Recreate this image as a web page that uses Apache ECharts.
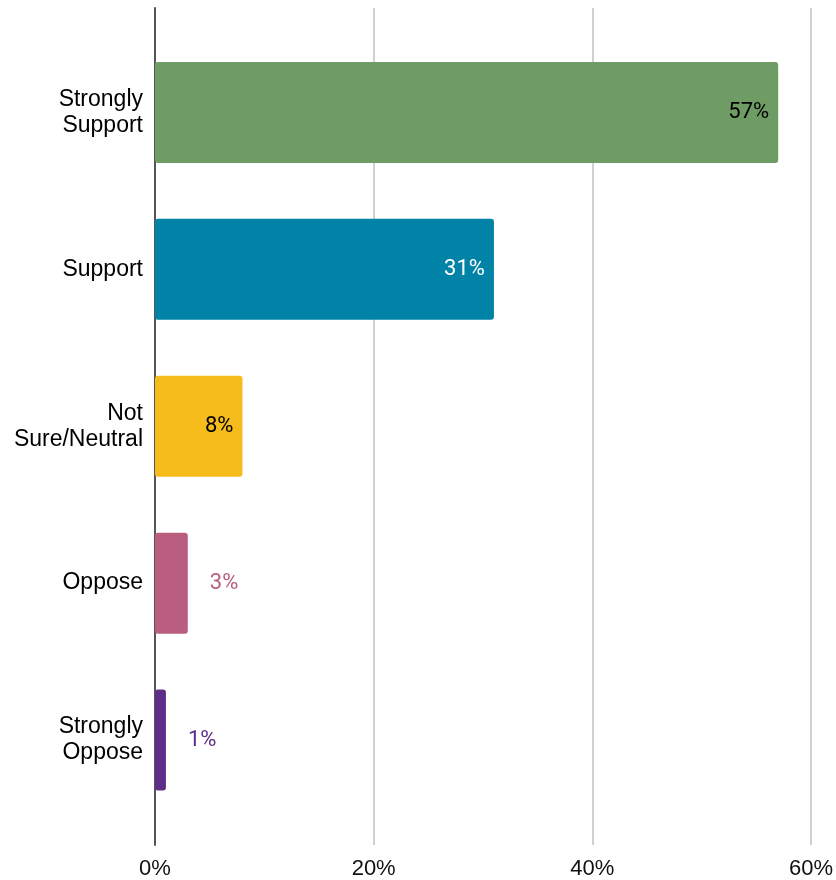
<!DOCTYPE html>
<html>
<head>
<meta charset="utf-8">
<script src="https://cdn.jsdelivr.net/npm/echarts@6/dist/echarts.min.js"></script>
<style>
  html, body { margin: 0; padding: 0; background: #fff; }
  #chart { width: 836px; height: 880px; }
</style>
</head>
<body>
<div id="chart"></div>
<script>
// Survey responses, share of respondents (%)
const categories = ['Strongly\nSupport', 'Support', 'Not\nSure/Neutral', 'Oppose', 'Strongly\nOppose'];
const values = [57, 31, 8, 3, 1];
const barColors = ['#6E9C64', '#0083A6', '#F5BC1C', '#BA5E80', '#5E2D8A'];
const labelColors = ['#000000', '#ffffff', '#000000', '#BA5E80', '#5E2D8A'];
const labelInside = [true, true, true, false, false];
const xTicks = [0, 20, 40, 60];

const chart = echarts.init(document.getElementById('chart'), null, { renderer: 'canvas' });

const barData = values.map((v, i) => ({
  value: v,
  itemStyle: { color: barColors[i] },
  label: labelInside[i]
    ? { position: 'insideRight', distance: 9, color: labelColors[i] }
    : { position: 'right', distance: 22, color: labelColors[i] }
}));

chart.setOption({
  animation: false,
  grid: [
    // frame: gridlines, zero axis and tick labels
    { left: 155, right: 25, top: 8, bottom: 35 },
    // bars
    { left: 155, right: 25, top: 34, bottom: 61.5 }
  ],
  xAxis: [
    {
      gridIndex: 0, type: 'value', min: xTicks[0], max: xTicks[xTicks.length - 1], interval: 20,
      axisLine: { show: false }, axisTick: { show: false },
      splitLine: { lineStyle: { color: '#d0d0d0', width: 2 } },
      axisLabel: {
        formatter: v => v + '%', margin: 13,
        fontFamily: 'Liberation Sans', fontSize: 22, color: '#111'
      }
    },
    {
      gridIndex: 1, type: 'value', min: xTicks[0], max: xTicks[xTicks.length - 1], show: false
    }
  ],
  yAxis: [
    {
      gridIndex: 0, type: 'category', data: [''],
      axisLine: { show: true, lineStyle: { color: '#555', width: 2 } },
      axisTick: { show: false }, axisLabel: { show: false }, splitLine: { show: false }
    },
    {
      gridIndex: 1, type: 'category', data: categories, inverse: true,
      axisLine: { show: false }, axisTick: { show: false },
      axisLabel: {
        margin: 12, fontFamily: 'Liberation Sans', fontSize: 23,
        lineHeight: 26, color: '#000', align: 'right'
      }
    }
  ],
  series: [
    {
      type: 'bar', xAxisIndex: 1, yAxisIndex: 1, data: barData, barWidth: 101, z: 1,
      itemStyle: { borderRadius: 3 },
      label: {
        show: true, formatter: p => p.value + '%',
        fontFamily: 'Roboto', fontSize: 22
      }
    }
  ]
});
</script>
</body>
</html>
